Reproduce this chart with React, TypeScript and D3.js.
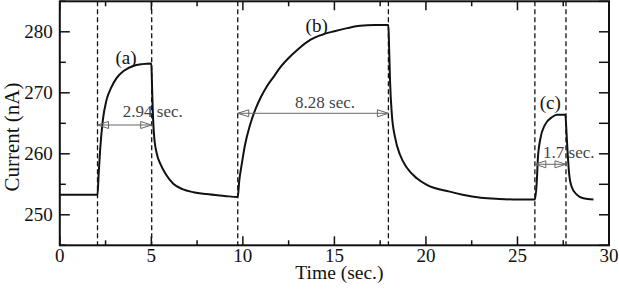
import React from 'react';
import * as d3 from 'd3';

// sensor response
const timeSec = [
  0, 1, 2.06,
  2.12, 2.2, 2.35, 2.55, 2.8, 3.1, 3.5, 4.0, 4.5, 5.0,
  5.03, 5.08, 5.15, 5.3, 5.5, 5.8, 6.2, 6.7, 7.3, 8.0, 9.0, 9.72,
  9.8, 9.95, 10.1, 10.4, 10.7, 11.0, 11.3, 11.7, 12.0, 12.5, 13.0, 13.7, 14.3, 15.0, 15.7, 16.4, 17.2, 17.95,
  17.99, 18.04, 18.14, 18.32, 18.59, 18.96, 19.5, 20.05, 21.3, 22.0, 23.0, 24.0, 25.0, 25.95,
  26.06, 26.11, 26.24, 26.5, 26.88, 27.15, 27.62,
  27.66, 27.73, 27.82, 27.96, 28.24, 28.6, 29.15,
];
const currentNA = [
  253.3, 253.3, 253.3,
  256.5, 260.5, 265.5, 268.8, 270.8, 272.4, 273.6, 274.4, 274.7, 274.8,
  272.0, 267.0, 263.0, 260.0, 258.3, 256.6, 255.1, 254.2, 253.7, 253.4, 253.1, 252.9,
  255.5, 258.5, 261.2, 264.8, 267.4, 269.4, 271.0, 272.7, 274.0, 275.7, 277.1, 278.7, 279.5, 280.1, 280.6, 281.0, 281.1, 281.1,
  277.3, 271.9, 266.4, 262.6, 259.8, 257.7, 256.0, 254.9, 253.8, 253.3, 252.8, 252.6, 252.5, 252.5,
  255.7, 259.0, 262.3, 264.75, 266.0, 266.4, 266.4,
  264.5, 260.7, 256.8, 254.6, 253.3, 252.7, 252.5,
];

const xTickLabels = [0, 5, 10, 15, 20, 25, 30];
const yTickLabels = [250, 260, 270, 280];
const pulseOn = [2.06, 9.72, 25.95];
const pulseOff = [5.02, 17.95, 27.65];
const pulseNames = ['(a)', '(b)', '(c)'];
const pulseWidths = ['2.94 sec.', '8.28 sec.', '1.7 sec.'];

const W = 619, H = 291;
const L = 59.8, R = 609, T = 1.3, B = 245.3;
const serif = { fontFamily: "'Liberation Serif', 'Times New Roman', 'DejaVu Serif', serif" };

const x = d3.scaleLinear().domain([0, 30]).range([L, R]);
const y = d3.scaleLinear().domain([245, 285]).range([B, T]);

// annotation placement (data units)
const nameAt = [[3.62, 274.7], [14.03, 279.97], [26.79, 267.3]];
const arrowAt = [264.72, 266.64, 258.28];
const widthAt = [[3.44, 266.0], [12.85, 267.5], [26.4, 259.3]];

const line = d3.line<number>()
  .x((_, i) => x(timeSec[i]))
  .y(d => y(d))
  .curve(d3.curveMonotoneX);

function head(tipX: number, yy: number, dir: number) {
  const len = 11, hw = 3.5;
  return `M${tipX},${yy}L${tipX + dir * len},${yy - hw}L${tipX + dir * len},${yy + hw}Z`;
}

export default function App() {
  const xMinor = d3.range(0, 30.01, 2.5);
  const yMinor = d3.range(245, 285.01, 5);
  return (
    <div style={{ position: 'fixed', left: 0, top: 0 }}>
      <svg width={W} height={H} style={{ display: 'block', background: '#fff' }}>
        {/* dashed pulse edges */}
        {[...pulseOn, ...pulseOff].map((t, i) => (
          <line key={'d' + i} x1={x(t)} x2={x(t)} y1={T} y2={B}
            stroke="#111" strokeWidth={1.3} strokeDasharray="5,3" />
        ))}

        <path d={line(currentNA) || ''} fill="none" stroke="#111" strokeWidth={2} strokeLinejoin="round" />

        {/* duration arrows */}
        {pulseOn.map((t0, i) => {
          const x0 = x(t0), x1 = x(pulseOff[i]), yy = y(arrowAt[i]);
          return (
            <g key={'a' + i} stroke="#666" strokeWidth={1} fill="none">
              <line x1={x0} x2={x1} y1={yy} y2={yy} />
              <path d={head(x0, yy, 1)} />
              <path d={head(x1, yy, -1)} />
            </g>
          );
        })}

        {pulseWidths.map((s, i) => (
          <text key={'w' + i} x={x(widthAt[i][0])} y={y(widthAt[i][1])}
            style={serif} fontSize={17} fill="#444">{s}</text>
        ))}
        {pulseNames.map((s, i) => (
          <text key={'n' + i} x={x(nameAt[i][0])} y={y(nameAt[i][1])} textAnchor="middle"
            style={serif} fontSize={19} fill="#111">{s}</text>
        ))}

        {/* ticks, all inward */}
        <g stroke="#111" strokeWidth={1.5}>
          {xMinor.map((t, i) => {
            const len = t % 5 === 0 ? 9 : 5;
            return (
              <g key={'xt' + i}>
                <line x1={x(t)} x2={x(t)} y1={B} y2={B - len} />
                <line x1={x(t)} x2={x(t)} y1={T} y2={T + len} />
              </g>
            );
          })}
          {yMinor.map((v, i) => {
            const len = v % 10 === 0 ? 10 : 6;
            return (
              <g key={'yt' + i}>
                <line x1={L} x2={L + len} y1={y(v)} y2={y(v)} />
                <line x1={R} x2={R - 10} y1={y(v)} y2={y(v)} />
              </g>
            );
          })}
        </g>
        <rect x={L} y={T} width={R - L} height={B - T} fill="none" stroke="#111" strokeWidth={2} />

        {xTickLabels.map(t => (
          <text key={'xl' + t} x={x(t)} y={B + 17} textAnchor="middle"
            style={serif} fontSize={19} fill="#111">{t}</text>
        ))}
        {yTickLabels.map(v => (
          <text key={'yl' + v} x={L - 7} y={y(v) + 6.5} textAnchor="end"
            style={serif} fontSize={19} fill="#111">{v}</text>
        ))}

        <text x={(L + R) / 2 + 5} y={279} textAnchor="middle" style={serif} fontSize={19.5} fill="#111">Time (sec.)</text>
        <text transform={`translate(19,${137}) rotate(-90)`} textAnchor="middle" style={serif} fontSize={21} fill="#111">Current (nA)</text>
      </svg>
    </div>
  );
}
